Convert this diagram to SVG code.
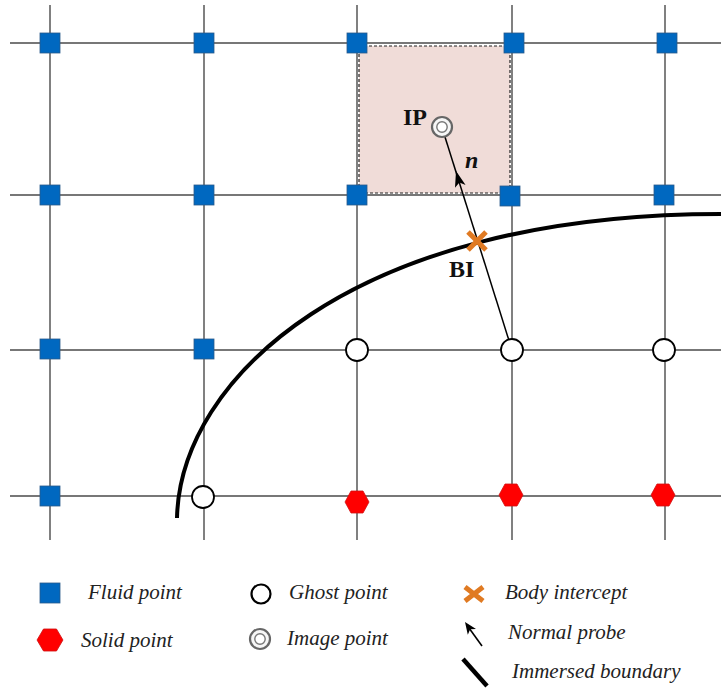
<svg xmlns="http://www.w3.org/2000/svg" xmlns:xlink="http://www.w3.org/1999/xlink" width="721" height="691" viewBox="0 0 721 691">
<style>
.grid{stroke:#4a4a4a;stroke-width:1.4;fill:none}
.fluid{fill:#0068c0;stroke:#2a5a8a;stroke-width:0.8}
.ghost{fill:#fff;stroke:#000;stroke-width:1.8}
.solid{fill:#ff0000;stroke:#d01010;stroke-width:0.8}
.bi{stroke:#e07a22;stroke-width:5;fill:none}
.lbl{font-family:"Liberation Serif","Times New Roman",serif;font-weight:bold;font-size:24px;fill:#111}
.leg{font-family:"Liberation Serif","Times New Roman",serif;font-style:italic;font-size:21px;fill:#222}
</style>
<defs>
<rect id="sq" x="-10" y="-10" width="20" height="20" class="fluid"/>
<circle id="gc" r="11" class="ghost"/>
<polygon id="hx" points="-12,0 -6,-11 6,-11 12,0 6,11 -6,11" class="solid"/>
<g id="ipc"><circle r="10" fill="#f6f6f6" stroke="#666" stroke-width="2.2"/><circle r="5.2" fill="#fff" stroke="#777" stroke-width="1.4"/></g>
</defs>
<rect width="721" height="691" fill="#fff"/>
<g id="cell">
<rect x="359" y="46" width="151" height="147" fill="#f0dcd8" stroke="#222" stroke-width="1.2" stroke-dasharray="3,2"/>
</g>
<g id="grid">
<line class="grid" x1="10" y1="43" x2="93" y2="43" stroke="#777"/>
<line class="grid" x1="93" y1="43" x2="721" y2="43" stroke="#333" stroke-width="2"/>
<line class="grid" x1="10" y1="195" x2="721" y2="195"/>
<line class="grid" x1="10" y1="350" x2="721" y2="350"/>
<line class="grid" x1="10" y1="496" x2="721" y2="496"/>
<line class="grid" x1="50" y1="5" x2="50" y2="540"/>
<line class="grid" x1="204" y1="5" x2="204" y2="540"/>
<line class="grid" x1="357" y1="5" x2="357" y2="540"/>
<line class="grid" x1="512" y1="5" x2="512" y2="540"/>
<line class="grid" x1="665" y1="5" x2="665" y2="540"/>
</g>
<g id="connectors">
<path id="boundary" d="M177,518 C180,380 350,214 721,214" fill="none" stroke="#000" stroke-width="4"/>
<line id="probe" x1="512" y1="350" x2="445" y2="137" stroke="#000" stroke-width="1.5"/>
<polygon points="456,171 465.6,184.9 459.4,182.4 455.0,187.8" fill="#000"/>
</g>
<g id="fluid-points">
<use xlink:href="#sq" x="50" y="43"/>
<use xlink:href="#sq" x="204" y="43"/>
<use xlink:href="#sq" x="357" y="43"/>
<use xlink:href="#sq" x="514" y="43"/>
<use xlink:href="#sq" x="667" y="43"/>
<use xlink:href="#sq" x="50" y="195"/>
<use xlink:href="#sq" x="204" y="195"/>
<use xlink:href="#sq" x="357" y="195"/>
<use xlink:href="#sq" x="510" y="196"/>
<use xlink:href="#sq" x="664" y="195"/>
<use xlink:href="#sq" x="50" y="349"/>
<use xlink:href="#sq" x="204" y="349"/>
<use xlink:href="#sq" x="50" y="496"/>
</g>
<g id="ghost-points">
<use xlink:href="#gc" x="357" y="350"/>
<use xlink:href="#gc" x="512" y="350"/>
<use xlink:href="#gc" x="664" y="350"/>
<use xlink:href="#gc" x="203" y="497"/>
</g>
<g id="solid-points">
<use xlink:href="#hx" x="357" y="502"/>
<use xlink:href="#hx" x="511" y="495"/>
<use xlink:href="#hx" x="663" y="495"/>
</g>
<g id="image-point">
<use xlink:href="#ipc" x="442" y="127"/>
<text class="lbl" x="403" y="125">IP</text>
</g>
<g id="body-intercept">
<path class="bi" d="M468,232 L486,250 M486,232 L468,250"/>
<text class="lbl" x="449" y="277">BI</text>
</g>
<text id="normal-label" class="lbl" x="465" y="168" font-style="italic">n</text>
<g id="legend">
<use xlink:href="#sq" x="50" y="593"/>
<text class="leg" x="88" y="599">Fluid point</text>
<use xlink:href="#hx" x="50" y="640" transform="translate(50,640) scale(1.08,1) translate(-50,-640)"/>
<text class="leg" x="81" y="647">Solid point</text>
<circle cx="261" cy="594" r="9.5" fill="#fff" stroke="#000" stroke-width="2.2"/>
<text class="leg" x="289" y="599">Ghost point</text>
<use xlink:href="#ipc" x="260" y="639"/>
<text class="leg" x="287" y="645">Image point</text>
<path class="bi" d="M465,587 L483,601 M483,587 L465,601"/>
<text class="leg" x="505" y="599">Body intercept</text>
<line x1="482" y1="646" x2="469" y2="628" stroke="#000" stroke-width="1.6"/>
<polygon points="465,622 476.0,628.9 470.2,629.3 467.8,634.7" fill="#000"/>
<text class="leg" x="508" y="639">Normal probe</text>
<line x1="463" y1="659" x2="487" y2="686" stroke="#000" stroke-width="4.5"/>
<text class="leg" x="512" y="678">Immersed boundary</text>
</g>
</svg>
